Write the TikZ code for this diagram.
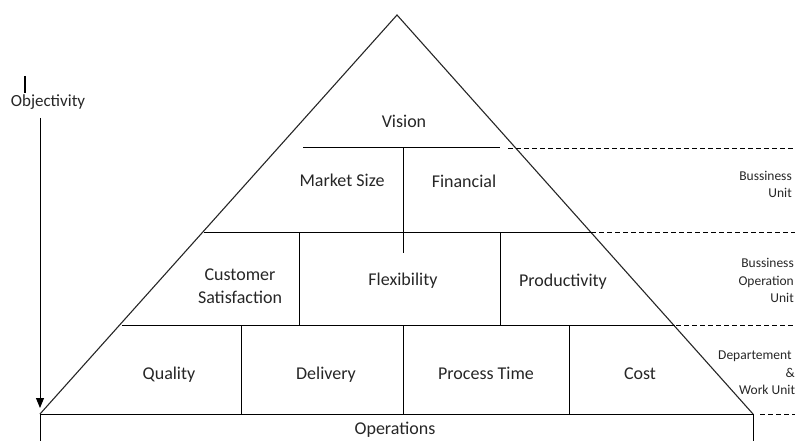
\documentclass[tikz,border=0pt]{standalone}
\usepackage{fontspec}
\setmainfont{Carlito}
\usetikzlibrary{arrows.meta}
\begin{document}
\begin{tikzpicture}[x=1pt,y=-1pt,
  edge/.style={draw=black!85,line width=1.1pt},
  inner/.style={draw=black,line width=1pt},
  dash line/.style={draw=black,line width=0.9pt,dash pattern=on 5pt off 3pt},
  lbl/.style={font=\fontsize{18}{23}\selectfont,text=black!85,inner sep=0pt,align=center,text height=12pt,text depth=0pt},
  multi/.style={text height=,text depth=},
  side/.style={font=\fontsize{13.5}{17.5}\selectfont,text=black!85,inner sep=0pt},
]
\useasboundingbox (0,0) rectangle (795,441);
\clip (0,0) rectangle (795,441);
% key points
\coordinate (apex) at (397,15);
\coordinate (bl) at (40,414);
\coordinate (br) at (753,414);
% triangle
\draw[edge] (bl) -- (apex) -- (br);
% operations box
\draw[inner] (40,450) -- (bl) -- (br) -- (753,450);
% horizontal levels
\coordinate (v1) at (303,148); \coordinate (v2) at (500,148);
\draw[inner] (v1) -- (v2);
\draw[inner] (204,232) -- (591,232);
\draw[inner] (122,325) -- (675,325);
% verticals
\draw[inner] (403,148) -- (403,253);
\draw[inner] (299,232) -- (299,325);
\draw[inner] (500,232) -- (500,325);
\draw[inner] (241,325) -- (241,414);
\draw[inner] (403,325) -- (403,414);
\draw[inner] (569,325) -- (569,414);
% dashed extensions
\draw[dash line] (508,148) -- (795,148);
\draw[dash line] (591,232) -- (795,232);
\draw[dash line] (676,325) -- (795,325);
\draw[dash line] (760,414) -- (795,414);
% labels
\node[lbl] (vision) at (404,122) {Vision};
\node[lbl] (market) at (342,180) {Market Size};
\node[lbl] (fin) at (464,181) {Financial};
\node[lbl,multi] (cust) at (240,286.5) {Customer\\Satisfaction};
\node[lbl] (flex) at (403,279) {Flexibility};
\node[lbl] (prod) at (563,280) {Productivity};
\node[lbl] (qual) at (169,373) {Quality};
\node[lbl] (deliv) at (326,373) {Delivery};
\node[lbl] (ptime) at (486,373) {Process Time};
\node[lbl] (cost) at (640,373) {Cost};
\node[lbl] (ops) at (395,428) {Operations};
% side labels
\node[side,anchor=east,align=right] (bu) at (792,184.5) {Bussiness\\Unit};
\node[side,anchor=east,align=right] (bou) at (794,280.5) {Bussiness\\Operation\\Unit};
\node[side,anchor=west] (d1) at (718,356) {Departement};
\node[side,anchor=east] (d2) at (795,373) {\&};
\node[side,anchor=west] (d3) at (739,390) {Work Unit};
% objectivity
\node[lbl,font=\fontsize{17}{20}\selectfont] (obj) at (48,101) {Objectivity};
\draw[black,line width=2pt] (25,76) -- (25,93);
\coordinate (atip) at (40,408);
\draw[black,line width=1pt,-{Triangle[length=10pt,width=8pt]}] (40,118) -- (atip);
\end{tikzpicture}
\end{document}
